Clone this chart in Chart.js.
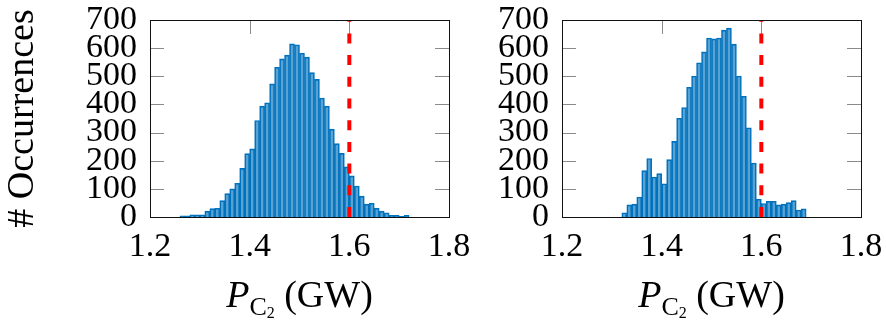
<!DOCTYPE html>
<html>
<head>
<meta charset="utf-8">
<script src="https://cdn.jsdelivr.net/npm/chart.js@4.4.0/dist/chart.umd.min.js"></script>
<style>
    html, body { margin: 0; padding: 0; background: #fff; }
    #wrap { position: relative; width: 886px; height: 323px; overflow: hidden; }
    canvas { position: absolute; top: 0; }
    #leftChart { left: 0; }
    #rightChart { left: 460px; }
</style>
</head>
<body>
<div id="wrap">
    <canvas id="leftChart" width="510" height="323"></canvas>
    <canvas id="rightChart" width="426" height="323"></canvas>
</div>
<script>
// histogram bins (left edge, GW) and counts
const leftBins = [1.26, 1.27, 1.28, 1.29, 1.30, 1.31, 1.32, 1.33, 1.34, 1.35,
    1.36, 1.37, 1.38, 1.39, 1.40, 1.41, 1.42, 1.43, 1.44, 1.45,
    1.46, 1.47, 1.48, 1.49, 1.50, 1.51, 1.52, 1.53, 1.54, 1.55,
    1.56, 1.57, 1.58, 1.59, 1.60, 1.61, 1.62, 1.63, 1.64, 1.65,
    1.66, 1.67, 1.68, 1.69, 1.70, 1.71];
const leftCounts = [4, 4, 8, 8, 8, 21, 30, 31, 58, 83,
    100, 120, 173, 225, 242, 343, 394, 406, 473, 532,
    562, 575, 615, 612, 582, 568, 513, 489, 423, 394,
    312, 261, 226, 178, 146, 110, 74, 46, 49, 31,
    21, 15, 6, 6, 2, 6];

const rightBins = [1.32, 1.33, 1.34, 1.35, 1.36, 1.37, 1.38, 1.39, 1.40, 1.41,
    1.42, 1.43, 1.44, 1.45, 1.46, 1.47, 1.48, 1.49, 1.50, 1.51,
    1.52, 1.53, 1.54, 1.55, 1.56, 1.57, 1.58, 1.59, 1.60, 1.61,
    1.62, 1.63, 1.64, 1.65, 1.66, 1.67, 1.68];
const rightCounts = [15, 43, 46, 71, 165, 208, 142, 154, 118, 204,
    269, 351, 389, 461, 501, 548, 587, 636, 633, 636,
    664, 671, 614, 501, 429, 317, 192, 63, 48, 56,
    56, 43, 46, 51, 58, 25, 29];

const binWidth = 0.01;
const threshold = 1.6;
const xTicks = [1.2, 1.4, 1.6, 1.8];
const yTicks = [0, 100, 200, 300, 400, 500, 600, 700];
const yTitle = "# Occurrences";

const serif = "'Liberation Serif', 'Times New Roman', serif";
const barFill = "rgba(0, 114, 189, 0.65)";
const barEdge = "#0072BD";

const frameTicks = {
    id: "frameTicks",
    beforeDatasetsDraw(chart) {
        const { ctx, chartArea: a, scales: { x, y } } = chart;
        const len = 14;
        ctx.save();
        ctx.strokeStyle = "#8a8a8a";
        ctx.lineWidth = 1;
        ctx.beginPath();
        xTicks.slice(1, -1).forEach((v) => {
            const px = Math.round(x.getPixelForValue(v)) + 0.5;
            ctx.moveTo(px, a.top); ctx.lineTo(px, a.top + len);
            ctx.moveTo(px, a.bottom); ctx.lineTo(px, a.bottom - len);
        });
        yTicks.slice(1, -1).forEach((v) => {
            const py = Math.round(y.getPixelForValue(v)) + 0.5;
            ctx.moveTo(a.left, py); ctx.lineTo(a.left + len, py);
            ctx.moveTo(a.right, py); ctx.lineTo(a.right - len, py);
        });
        ctx.stroke();
        ctx.restore();
    },
    afterDatasetsDraw(chart) {
        const { ctx, chartArea: a } = chart;
        ctx.save();
        ctx.strokeStyle = "#111";
        ctx.lineWidth = 1;
        ctx.strokeRect(Math.round(a.left) + 0.5, Math.round(a.top) + 0.5,
            Math.round(a.right - a.left), Math.round(a.bottom - a.top));
        ctx.restore();
    },
    afterDraw(chart) {
        // x title: P_{C_2} (GW), drawn as canvas text with subscripts
        const { ctx, chartArea: a } = chart;
        const parts = [
            { t: "P", font: `italic 38px ${serif}`, dy: 0 },
            { t: "C", font: `26px ${serif}`, dy: 8 },
            { t: "2", font: `16px ${serif}`, dy: 11 },
            { t: " (GW)", font: `38px ${serif}`, dy: 0 }
        ];
        ctx.save();
        ctx.fillStyle = "#000";
        ctx.textBaseline = "alphabetic";
        let total = 0;
        parts.forEach((p) => { ctx.font = p.font; p.w = ctx.measureText(p.t).width; total += p.w; });
        let cx = (a.left + a.right) / 2 - total / 2;
        const base = 307;
        parts.forEach((p) => {
            ctx.font = p.font;
            ctx.fillText(p.t, cx, base + p.dy);
            cx += p.w;
        });
        ctx.restore();
    }
};

const makeChart = (canvas, bins, counts, axisWidth, padRight, showTitle) => new Chart(canvas, {
    type: "bar",
    data: {
        datasets: [{
            type: "line",
            data: [{ x: threshold, y: 0 }, { x: threshold, y: 700 }],
            borderColor: "#ff0000",
            borderWidth: 4,
            borderDash: [10, 11.7],
            pointRadius: 0,
            order: 0
        }, {
            data: bins.map((b, i) => ({ x: b + binWidth / 2, y: counts[i] })),
            backgroundColor: barFill,
            borderColor: barEdge,
            borderWidth: 1,
            barPercentage: 1,
            categoryPercentage: 1,
            order: 1
        }]
    },
    options: {
        responsive: false,
        animation: false,
        events: [],
        layout: { padding: { top: 20, right: padRight, left: 0, bottom: 0 } },
        plugins: { legend: { display: false }, tooltip: { enabled: false } },
        scales: {
            x: {
                type: "linear",
                min: 1.2,
                max: 1.8,
                offset: false,
                grid: { display: false, drawTicks: false },
                border: { display: false },
                afterBuildTicks: (axis) => { axis.ticks = xTicks.map((v) => ({ value: v })); },
                afterFit: (axis) => { axis.height = 106; axis.paddingLeft = 0; axis.paddingRight = 0; },
                ticks: {
                    autoSkip: false,
                    maxRotation: 0,
                    padding: 10,
                    color: "#000",
                    font: { family: serif, size: 34 },
                    callback: (v) => Number(v).toFixed(1)
                }
            },
            y: {
                min: 0,
                max: 700,
                grid: { display: false, drawTicks: false },
                border: { display: false },
                afterBuildTicks: (axis) => { axis.ticks = yTicks.map((v) => ({ value: v })); },
                afterFit: (axis) => { axis.width = axisWidth; axis.paddingTop = 0; axis.paddingBottom = 0; },
                title: {
                    display: showTitle,
                    text: yTitle,
                    color: "#000",
                    font: { family: serif, size: 38 },
                    padding: { top: 0, bottom: 0 }
                },
                ticks: {
                    autoSkip: false,
                    padding: 13,
                    color: "#000",
                    font: { family: serif, size: 34 }
                }
            }
        }
    },
    plugins: [frameTicks]
});

makeChart(document.getElementById("leftChart"), leftBins, leftCounts, 150, 61, true);
makeChart(document.getElementById("rightChart"), rightBins, rightCounts, 102, 25, false);
</script>
</body>
</html>
